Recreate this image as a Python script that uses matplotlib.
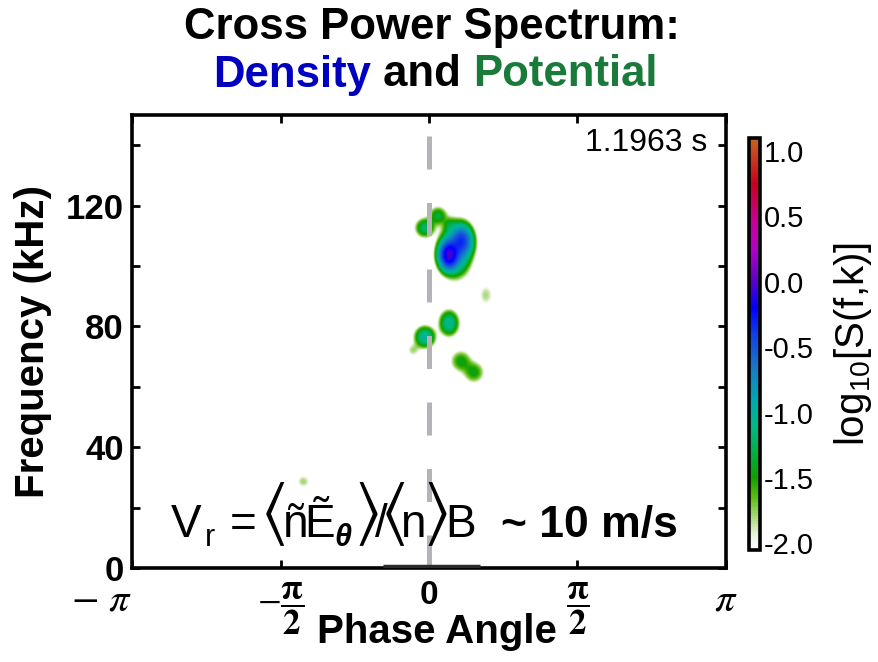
import numpy as np
import matplotlib
matplotlib.use("Agg")
import matplotlib.pyplot as plt
from matplotlib.colors import LinearSegmentedColormap

plt.rcParams['font.family'] = ['Liberation Sans', 'DejaVu Sans']
plt.rcParams['mathtext.fontset'] = 'custom'
plt.rcParams['mathtext.rm'] = 'Liberation Sans'
plt.rcParams['mathtext.it'] = 'Liberation Sans:italic'
plt.rcParams['mathtext.bf'] = 'Liberation Sans:bold'

# ---- data: spectral peaks (phase [rad], frequency [kHz], log10 peak, widths) ----
peak_phase = [0.212, 0.349, 0.286, 0.095, -0.042, 0.222, 0.603, 0.212, -0.042, -0.169, 0.338, 0.476, -1.33]
peak_freq = [103.7, 108.4, 105.4, 116.7, 112.7, 113.5, 90.4, 81.1, 76.5, 72.1, 68.5, 64.8, 28.6]
peak_log = [-0.1, -0.45, -0.75, -1.35, -1.2, -1.6, -1.8, -1.05, -1.0, -1.8, -1.45, -1.45, -1.78]
peak_sig_phase = [0.055, 0.06, 0.085, 0.058, 0.06, 0.045, 0.06, 0.058, 0.06, 0.05, 0.068, 0.068, 0.055]
peak_sig_freq = [2.5, 2.7, 4.4, 1.85, 1.85, 1.6, 2.8, 2.35, 1.95, 1.6, 2.2, 2.2, 1.7]

low_strip_phase = [-0.487, 0.54]
low_strip_freq = [0.6, 0.6]

time_label = "1.1963 s"
cbar_ticks = [-2.0, -1.5, -1.0, -0.5, 0.0, 0.5, 1.0]
ytick_vals = [0, 20, 40, 60, 80, 100, 120, 140]
ytick_labels = ['0', '', '40', '', '80', '', '120', '']
xtick_vals = [-np.pi, -np.pi / 2, 0, np.pi / 2, np.pi]
xtick_labels = [r'$-\ \pi\ \,$', r'$-\dfrac{\mathbf{\pi}}{\mathbf{2}}$', '0',
                r'$\dfrac{\mathbf{\pi}}{\mathbf{2}}$', r'$\pi$']

vmin, vmax = -2.05, 1.1
W, H = 879, 662

# ---- build spectrum ----
ph = np.linspace(-np.pi, np.pi, 900)
fr = np.linspace(0, 150, 700)
P, F = np.meshgrid(ph, fr)
S = np.full(P.shape, 1e-6)
for p0, f0, lg, sp, sf in zip(peak_phase, peak_freq, peak_log, peak_sig_phase, peak_sig_freq):
    S += 10 ** lg * np.exp(-((P - p0) ** 2 / (2 * sp ** 2) + (F - f0) ** 2 / (2 * sf ** 2)))
Z = np.log10(S)

stops = [(-2.05, '#ffffff'), (-1.95, '#eef6e6'), (-1.8, '#a8d878'), (-1.65, '#5cbc10'),
         (-1.5, '#10a000'), (-1.3, '#00b048'), (-1.1, '#00b888'), (-0.9, '#00a8b0'),
         (-0.65, '#1878c8'), (-0.4, '#1040e8'), (-0.2, '#0000ff'), (0.0, '#5800c8'),
         (0.25, '#b000c8'), (0.45, '#c8009c'), (0.75, '#c80020'), (1.1, '#c8641e')]
cmap = LinearSegmentedColormap.from_list(
    'spec', [((v - vmin) / (vmax - vmin), c) for v, c in stops])
cmap.set_under('white')

fig = plt.figure(figsize=(W / 100, H / 100), dpi=100)
ax = fig.add_axes([132 / W, 1 - 568 / H, 594 / W, 453 / H])

im = ax.imshow(Z, extent=[-np.pi, np.pi, 0, 150], origin='lower', aspect='auto',
               cmap=cmap, vmin=vmin, vmax=vmax, interpolation='bilinear')
ax.plot([0, 0], [0, 150], color='#b4b4b8', lw=3.6, dashes=(6.6, 6.7), zorder=3,
        solid_capstyle='butt', dash_capstyle='butt')
ax.plot(low_strip_phase, low_strip_freq, color='#2a2a2a', lw=2.5, zorder=4,
        solid_capstyle='butt')

ax.set_xlim(-np.pi, np.pi)
ax.set_ylim(0, 150)
for s in ax.spines.values():
    s.set_linewidth(2.6)
ax.set_yticks(ytick_vals)
ax.set_yticklabels(ytick_labels, fontsize=25, fontweight='bold')
ax.set_xticks(xtick_vals)
ax.set_xticklabels(xtick_labels, fontsize=25, fontweight='bold', math_fontfamily='stix')
ax.tick_params(direction='in', length=6, width=2, top=True, right=True)
ax.tick_params(axis='y', pad=6)
ax.tick_params(axis='x', pad=9)
xl = ax.get_xticklabels()
xl[0].set_ha('right')
xl[0].set_fontsize(29)
xl[4].set_fontsize(29)
xl[2].set_fontsize(24)

ax.set_ylabel('Frequency (kHz)', fontsize=29, fontweight='bold', labelpad=10)
ax.set_xlabel('Phase Angle', fontsize=29, fontweight='bold')
ax.xaxis.set_label_coords((437 - 132) / 594, -(613 - 568) / 453, transform=ax.transAxes)
ax.xaxis.label.set_va('top')

ax.text(0.968, 0.938, time_label, transform=ax.transAxes, ha='right', va='center', fontsize=23)

cax = fig.add_axes([749 / W, 1 - 550 / H, 11 / W, 412 / H])
cb = fig.colorbar(im, cax=cax, ticks=cbar_ticks)
cb.outline.set_linewidth(2.6)
cb.ax.tick_params(length=0, labelsize=21, pad=3)
cb.ax.set_yticklabels(['%.1f' % t for t in cbar_ticks])
cb.set_label(r'log$_{10}$[S(f,k)]', fontsize=29, labelpad=13)

# ---- title ----
fig.text(432 / W, 1 - 27 / H, 'Cross Power Spectrum:', ha='center', va='center',
         fontsize=31.5, fontweight='bold')
parts = [('Density', '#0000c0'), (' and ', 'black'), ('Potential', '#1a7a3a')]
texts = [fig.text(0, 1 - 75 / H, t, color=c, ha='left', va='center', fontsize=31.5,
                  fontweight='bold') for t, c in parts]
fig.canvas.draw()
r = fig.canvas.get_renderer()
widths = [t.get_window_extent(r).width for t in texts]
x = 435 - sum(widths) / 2
for t, w in zip(texts, widths):
    t.set_x(x / W)
    x += w

# ---- formula, each glyph group centred at its place (text, size, baseline shift px, x px) ----
reg = dict()
bra = dict(math_fontfamily='stix')
pieces = [('V', 33, 0, 186, reg), ('r', 22, -9, 210, reg), ('=', 33, 0, 243, reg),
          (r'$\langle$', 50, 6, 273, bra), ('ñ', 33, 0, 296, reg), ('Ẽ', 33, 0, 320, reg),
          ('θ', 22, -9, 343, dict(fontweight='bold', fontstyle='italic')),
          (r'$\rangle$', 50, 6, 366, bra), ('/', 33, 0, 381, reg),
          (r'$\langle$', 50, 6, 393, bra), ('n', 33, 0, 413, reg),
          (r'$\rangle$', 50, 6, 435, bra), ('B', 33, 0, 461, reg)]
base = 537
for txt, fs, dy, xc, kw in pieces:
    fig.text(xc / W, 1 - (base - dy) / H, txt, fontsize=fs, ha='center', va='baseline', **kw)
fig.text(501 / W, 1 - base / H, '~ 10 m/s', fontsize=32, fontweight='bold',
         ha='left', va='baseline')

fig.savefig('out.png', dpi=100)
